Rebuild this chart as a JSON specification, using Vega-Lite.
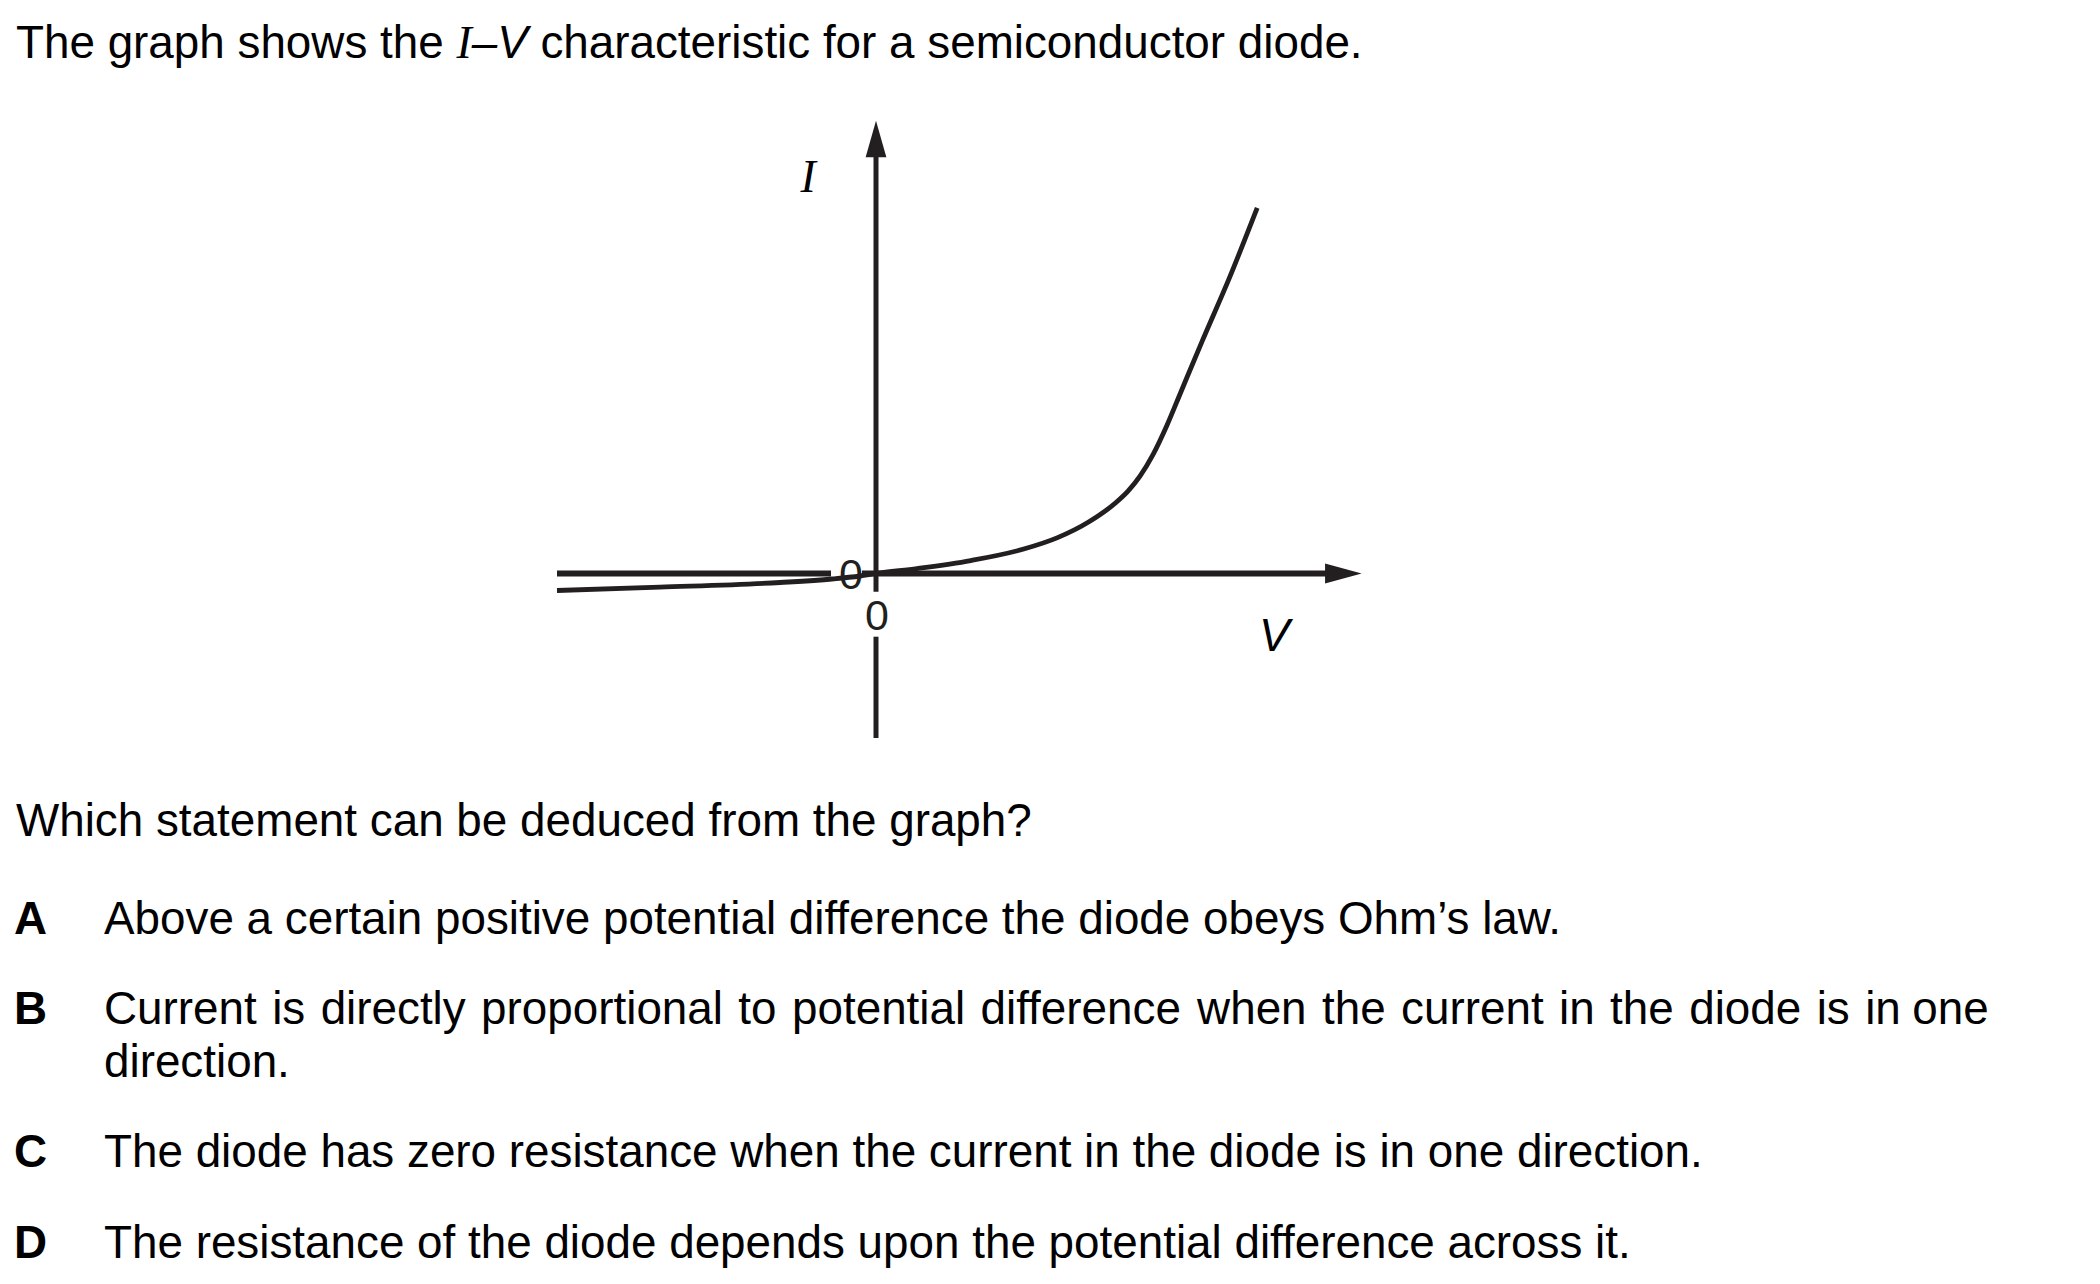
{
  "$schema": "https://vega.github.io/schema/vega-lite/v6.json",
  "width": 2100,
  "height": 1284,
  "autosize": {"type": "fit", "contains": "padding"},
  "padding": 0,
  "background": "white",
  "config": {"view": {"stroke": null}},
  "datasets": {
    "curve": [
      {"v": -0.7975, "i": -0.85},
      {"v": -0.54, "i": -0.685},
      {"v": -0.24, "i": -0.45},
      {"v": -0.11, "i": -0.275},
      {"v": -0.04, "i": -0.125},
      {"v": 0, "i": 0},
      {"v": 0.1025, "i": 0.2475},
      {"v": 0.237, "i": 0.6475},
      {"v": 0.3715, "i": 1.235},
      {"v": 0.4525, "i": 1.78},
      {"v": 0.5325, "i": 2.585},
      {"v": 0.6, "i": 3.55},
      {"v": 0.63, "i": 4.12},
      {"v": 0.66, "i": 4.87},
      {"v": 0.6925, "i": 5.945},
      {"v": 0.7275, "i": 7.415},
      {"v": 0.7625, "i": 9.09},
      {"v": 0.816, "i": 11.645},
      {"v": 0.883, "i": 14.755},
      {"v": 0.953, "i": 18.28}
    ],
    "axes": [
      {"axis": "V", "v": -0.7975, "v2": -0.1125, "i": 0, "i2": 0},
      {"axis": "V", "v": -0.035, "v2": 1.13, "i": 0, "i2": 0},
      {"axis": "I", "v": 0, "v2": 0, "i": 20.85, "i2": -0.91},
      {"axis": "I", "v": 0, "v2": 0, "i": -3.16, "i2": -8.225}
    ],
    "arrows": [
      {"axis": "I", "v": 0, "i": 21.725},
      {"axis": "V", "v": 1.1684, "i": 0}
    ],
    "texts": [
      {"role": "plain", "text": "The graph shows the", "v": -2.15, "i": 25.775},
      {"role": "serifItalic", "text": "I", "v": -1.049, "i": 25.775},
      {"role": "sansItalic", "text": "–V", "v": -1.01075, "i": 25.775},
      {"role": "plain", "text": "characteristic for a semiconductor diode.", "v": -0.839, "i": 25.775},
      {"role": "serifItalic", "text": "I", "v": -0.189, "i": 19.075},
      {"role": "sansItalic", "text": "V", "v": 0.9575, "i": -3.875},
      {"role": "zero", "text": "0", "v": 0.0025, "i": -2.8},
      {"role": "zero", "text": "0", "v": -0.0625, "i": -0.75},
      {"role": "plain", "text": "Which statement can be deduced from the graph?", "v": -2.15, "i": -13.125},
      {"role": "letter", "text": "A", "v": -2.155, "i": -18.025},
      {"role": "plain", "text": "Above a certain positive potential difference the diode obeys Ohm’s law.", "v": -1.93, "i": -18.025},
      {"role": "letter", "text": "B", "v": -2.155, "i": -22.525},
      {"role": "plain", "text": "Current", "v": -1.93, "i": -22.525},
      {"role": "plain", "text": "is", "v": -1.50968, "i": -22.525},
      {"role": "plain", "text": "directly", "v": -1.38843, "i": -22.525},
      {"role": "plain", "text": "proportional", "v": -0.98723, "i": -22.525},
      {"role": "plain", "text": "to", "v": -0.34408, "i": -22.525},
      {"role": "plain", "text": "potential", "v": -0.21, "i": -22.525},
      {"role": "plain", "text": "difference", "v": 0.26138, "i": -22.525},
      {"role": "plain", "text": "when", "v": 0.80273, "i": -22.525},
      {"role": "plain", "text": "the", "v": 1.11498, "i": -22.525},
      {"role": "plain", "text": "current", "v": 1.3127, "i": -22.525},
      {"role": "plain", "text": "in", "v": 1.7076, "i": -22.525},
      {"role": "plain", "text": "the", "v": 1.83528, "i": -22.525},
      {"role": "plain", "text": "diode", "v": 2.033, "i": -22.525},
      {"role": "plain", "text": "is", "v": 2.35165, "i": -22.525},
      {"role": "plain", "text": "in", "v": 2.4729, "i": -22.525},
      {"role": "plain", "text": "one", "v": 2.59058, "i": -22.525},
      {"role": "plain", "text": "direction.", "v": -1.93, "i": -25.175},
      {"role": "letter", "text": "C", "v": -2.155, "i": -29.675},
      {"role": "plain", "text": "The diode has zero resistance when the current in the diode is in one direction.", "v": -1.93, "i": -29.675},
      {"role": "letter", "text": "D", "v": -2.155, "i": -34.225},
      {"role": "plain", "text": "The resistance of the diode depends upon the potential difference across it.", "v": -1.93, "i": -34.225}
    ]
  },
  "encoding": {
    "x": {"field": "v", "type": "quantitative", "scale": {"domain": [-2.19, 3.06], "nice": false, "zero": false}, "axis": null},
    "y": {"field": "i", "type": "quantitative", "scale": {"domain": [-35.525, 28.675], "nice": false, "zero": false}, "axis": null}
  },
  "layer": [
    {
      "data": {"name": "axes"},
      "transform": [{"filter": "datum.axis === 'V'"}],
      "mark": {"type": "rule", "color": "#231f20", "strokeWidth": 6},
      "encoding": {"x2": {"field": "v2"}, "y2": {"field": "i2"}}
    },
    {
      "data": {"name": "axes"},
      "transform": [{"filter": "datum.axis === 'I'"}],
      "mark": {"type": "rule", "color": "#231f20", "strokeWidth": 5},
      "encoding": {"x2": {"field": "v2"}, "y2": {"field": "i2"}}
    },
    {
      "data": {"name": "arrows"},
      "mark": {"type": "point", "filled": true, "color": "#231f20", "opacity": 1, "size": 1340, "strokeWidth": 0},
      "encoding": {
        "shape": {"field": "axis", "type": "nominal", "legend": null,
          "scale": {"domain": ["I", "V"], "range": ["M0,-1L0.566,1L-0.566,1Z", "M1,0L-1,-0.546L-1,0.546Z"]}}
      }
    },
    {
      "data": {"name": "curve"},
      "mark": {"type": "line", "color": "#231f20", "strokeWidth": 4.8, "interpolate": "monotone"},
      "encoding": {}
    },
    {
      "data": {"name": "texts"},
      "transform": [{"filter": "datum.role === 'plain'"}],
      "mark": {"type": "text", "font": "Liberation Sans", "fontSize": 45.8, "align": "left", "baseline": "alphabetic", "color": "#000000"},
      "encoding": {"text": {"field": "text"}}
    },
    {
      "data": {"name": "texts"},
      "transform": [{"filter": "datum.role === 'letter'"}],
      "mark": {"type": "text", "font": "Liberation Sans", "fontSize": 45.8, "fontWeight": "bold", "align": "left", "baseline": "alphabetic", "color": "#000000"},
      "encoding": {"text": {"field": "text"}}
    },
    {
      "data": {"name": "texts"},
      "transform": [{"filter": "datum.role === 'serifItalic'"}],
      "mark": {"type": "text", "font": "Liberation Serif", "fontSize": 45.8, "fontStyle": "italic", "align": "left", "baseline": "alphabetic", "color": "#000000"},
      "encoding": {"text": {"field": "text"}}
    },
    {
      "data": {"name": "texts"},
      "transform": [{"filter": "datum.role === 'sansItalic'"}],
      "mark": {"type": "text", "font": "Liberation Sans", "fontSize": 45.8, "fontStyle": "italic", "align": "left", "baseline": "alphabetic", "color": "#000000"},
      "encoding": {"text": {"field": "text"}}
    },
    {
      "data": {"name": "texts"},
      "transform": [{"filter": "datum.role === 'zero'"}],
      "mark": {"type": "text", "font": "Liberation Sans", "fontSize": 43, "align": "center", "baseline": "alphabetic", "color": "#231f20"},
      "encoding": {"text": {"field": "text"}}
    }
  ]
}
